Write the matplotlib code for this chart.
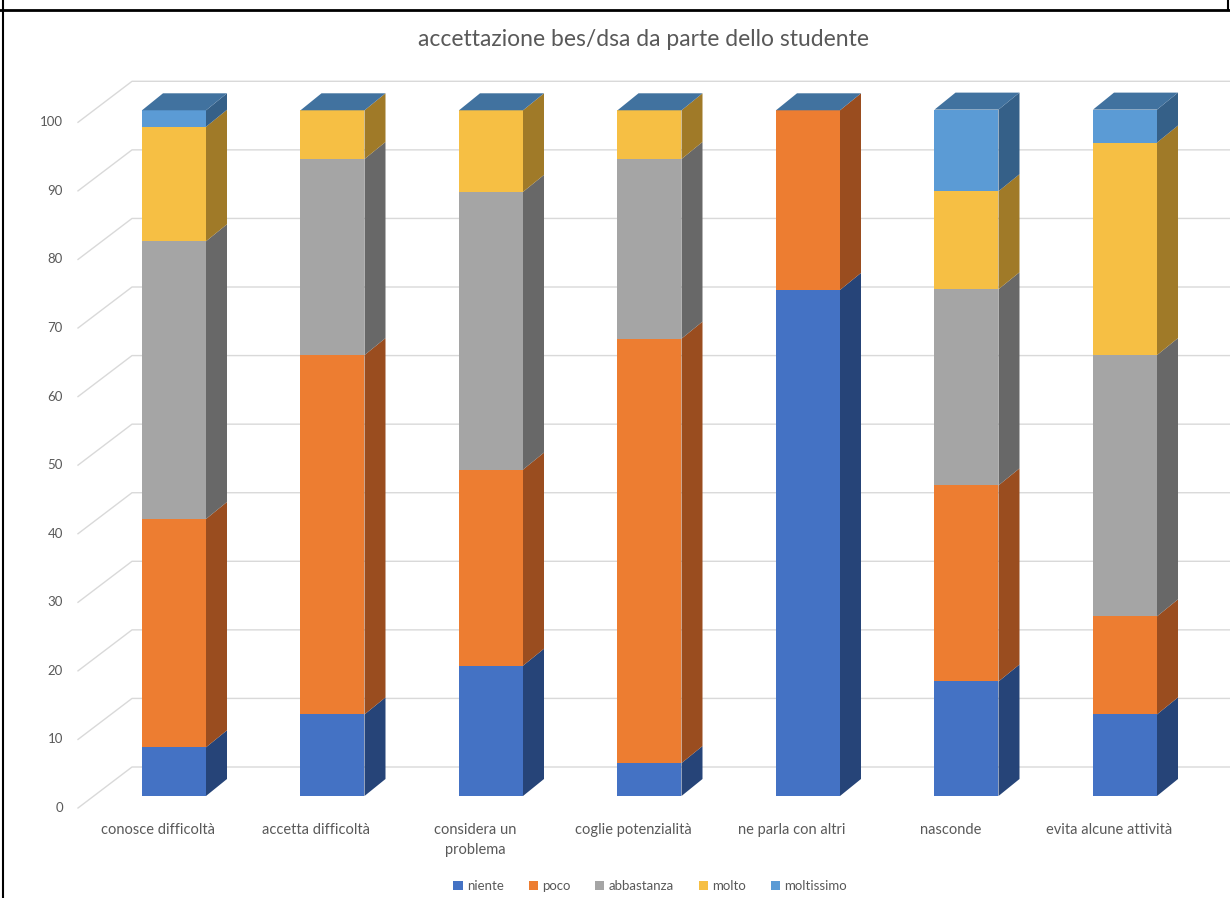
import numpy as np
import matplotlib
matplotlib.use("Agg")
import matplotlib.pyplot as plt
from matplotlib.patches import Polygon, Patch
from matplotlib.lines import Line2D

plt.rcParams["font.family"] = ["Lato", "DejaVu Sans"]
GREY_TXT = "#595959"

categories = ["conosce difficoltà", "accetta difficoltà", "considera un\nproblema",
              "coglie potenzialità", "ne parla con altri", "nasconde",
              "evita alcune attività"]
series = ["niente", "poco", "abbastanza", "molto", "moltissimo"]
niente     = [7.1, 11.9, 19.0,  4.8, 73.8, 16.7, 11.9]
poco       = [33.3, 52.4, 28.6, 61.9, 26.2, 28.6, 14.3]
abbastanza = [40.5, 28.6, 40.5, 26.2,  0.0, 28.6, 38.1]
molto      = [16.7,  7.1, 11.9,  7.1,  0.0, 14.3, 31.0]
moltissimo = [2.4,   0.0,  0.0,  0.0,  0.0, 11.9,  4.8]
yticks = list(range(0, 101, 10))

front = ["#4472C4", "#ED7D31", "#A5A5A5", "#F6BF44", "#5B9BD5"]
side  = ["#264478", "#9A4D1F", "#686868", "#A07A28", "#356088"]
TOP = "#41729F"

# pixel geometry of the pseudo-3d box
W, H = 1230, 898
X0, DXC = 174.0, 158.5      # first bar front-centre, category step (px)
Y0, PXU = 796.0, 6.857      # front floor line, px per value unit
BAR_W = 64.0
DEPTH_X, DEPTH_Y = 21.0, 17.0
WALL_X, WALL_DY = 132.0, 29.0
LAB_X, LAB_DY = 78.0, 12.0

fig = plt.figure(figsize=(W / 100, H / 100), dpi=100)
ax = fig.add_axes([0, 0, 1, 1])
ax.set_xlim(-X0 / DXC, (W - X0) / DXC)
ax.set_ylim((Y0 - H) / PXU, Y0 / PXU)
ax.axis("off")

def cx(px):  # horizontal pixel position -> category units
    return (px - X0) / DXC

ddx, ddy = DEPTH_X / DXC, DEPTH_Y / PXU
wall_dy, lab_dy = WALL_DY / PXU, LAB_DY / PXU

# back wall gridlines with the slanted floor-to-wall segment
for v in yticks:
    ax.add_line(Line2D([cx(LAB_X), cx(WALL_X), cx(W)],
                       [v - lab_dy, v + wall_dy, v + wall_dy],
                       color="#D9D9D9", lw=1.0, zorder=1))
    ax.text(cx(LAB_X) - 15 / DXC, v - lab_dy, str(v), ha="right", va="center",
            fontsize=9.5, color=GREY_TXT)

# stacked bars: front faces via bar(), side + top faces as polygons
x = np.arange(len(categories))
w = BAR_W / DXC
bottom = np.zeros(len(categories))
for k, vals in enumerate([niente, poco, abbastanza, molto, moltissimo]):
    vals = np.array(vals)
    ax.bar(x, vals, width=w, bottom=bottom, color=front[k], linewidth=0, zorder=3)
    for i in range(len(x)):
        if vals[i] <= 0:
            continue
        xr = x[i] + w / 2
        b, t = bottom[i], bottom[i] + vals[i]
        ax.add_patch(Polygon([(xr, b), (xr + ddx, b + ddy), (xr + ddx, t + ddy), (xr, t)],
                             closed=True, color=side[k], lw=0, zorder=3))
    bottom += vals

for i in range(len(x)):
    xl, xr, t = x[i] - w / 2, x[i] + w / 2, bottom[i]
    ax.add_patch(Polygon([(xl, t), (xr, t), (xr + ddx, t + ddy), (xl + ddx, t + ddy)],
                         closed=True, color=TOP, lw=0, zorder=3))

# category labels sit on the front edge of the floor, a little left of the bars
for i, c in enumerate(categories):
    ax.text(x[i] - 16 / DXC, (Y0 - 823) / PXU, c,
            ha="center", va="top", fontsize=10.5, color=GREY_TXT, linespacing=1.55)

fig.text(644 / W, 1 - 40 / H, "accettazione bes/dsa da parte dello studente",
         ha="center", va="center", fontsize=16.5, color=GREY_TXT)

handles = [Patch(facecolor=front[k], label=s) for k, s in enumerate(series)]
fig.legend(handles=handles, loc="center", bbox_to_anchor=(650 / W, 1 - 886 / H),
           ncol=5, frameon=False, fontsize=9.5, handlelength=0.7, handleheight=0.7,
           handletextpad=0.3, columnspacing=1.9, labelcolor=GREY_TXT)

# page border lines
fig.add_artist(Line2D([3 / W, 3 / W], [0, 1], color="black", lw=1.5))
fig.add_artist(Line2D([0, 1], [1 - 10 / H, 1 - 10 / H], color="black", lw=2))
fig.add_artist(Line2D([1228 / W, 1228 / W], [1 - 10 / H, 1], color="black", lw=1.5))

fig.savefig("out.png", dpi=100, facecolor="white")
